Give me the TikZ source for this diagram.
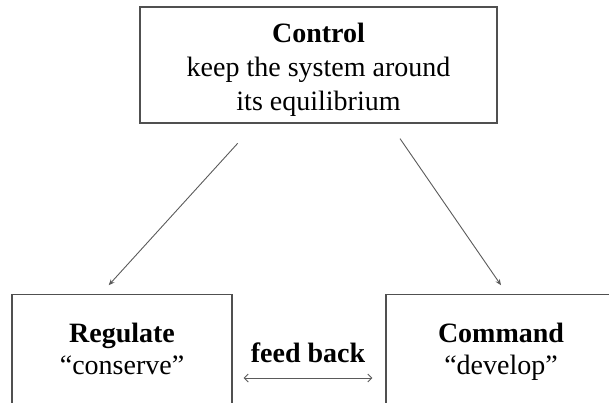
\documentclass[tikz,border=0pt]{standalone}
\usepackage{fontspec}
\setmainfont{Liberation Serif}
\usetikzlibrary{arrows.meta,calc}
\definecolor{linegray}{RGB}{80,80,80}
\definecolor{arrowgray}{RGB}{90,90,90}
\begin{document}
\begin{tikzpicture}[x=1pt,y=-1pt,
  box/.style={draw=linegray, line width=1.2pt, rectangle, inner sep=0pt, align=center},
  topfont/.style={font=\fontsize{28}{34}\selectfont},
  botfont/.style={font=\fontsize{28}{32}\selectfont},
  arr/.style={draw=arrowgray, line width=0.9pt, -{Stealth[length=6pt,width=5pt]}},
  fb/.style={draw=arrowgray, line width=0.9pt, {Straight Barb[length=4pt,width=8pt]}-{Straight Barb[length=4pt,width=8pt]}}]
\useasboundingbox (0,0) rectangle (609,402);
\clip (0,0) rectangle (609,402);
\node[box, topfont, minimum width=357pt, minimum height=116pt] (control) at (318.5,65)
  {\rule{0pt}{28pt}\textbf{Control}\\keep the system around\\its equilibrium};
\node[box, botfont, minimum width=220pt, minimum height=115pt] (regulate) at (122,351.6)
  {\textbf{Regulate}\\“conserve”\vphantom{p}};
\node[box, botfont, minimum width=230pt, minimum height=115pt] (command) at (501,351.6)
  {\textbf{Command}\\“develop”};
\draw[arr] ([xshift=-80.8pt, yshift=-19.7pt]control.south) -- ([xshift=-13.3pt, yshift=8.3pt]regulate.north);
\draw[arr] ([xshift=81.5pt, yshift=-15pt]control.south) -- ([yshift=8.3pt]command.north);
\draw[fb] ([xshift=11pt, yshift=-26.4pt]regulate.east) --
  node[midway, anchor=base, yshift=16pt, inner sep=0pt, botfont] (fbtext) {\textbf{feed back}}
  ([xshift=-13pt, yshift=-26.4pt]command.west);
\end{tikzpicture}
\end{document}
